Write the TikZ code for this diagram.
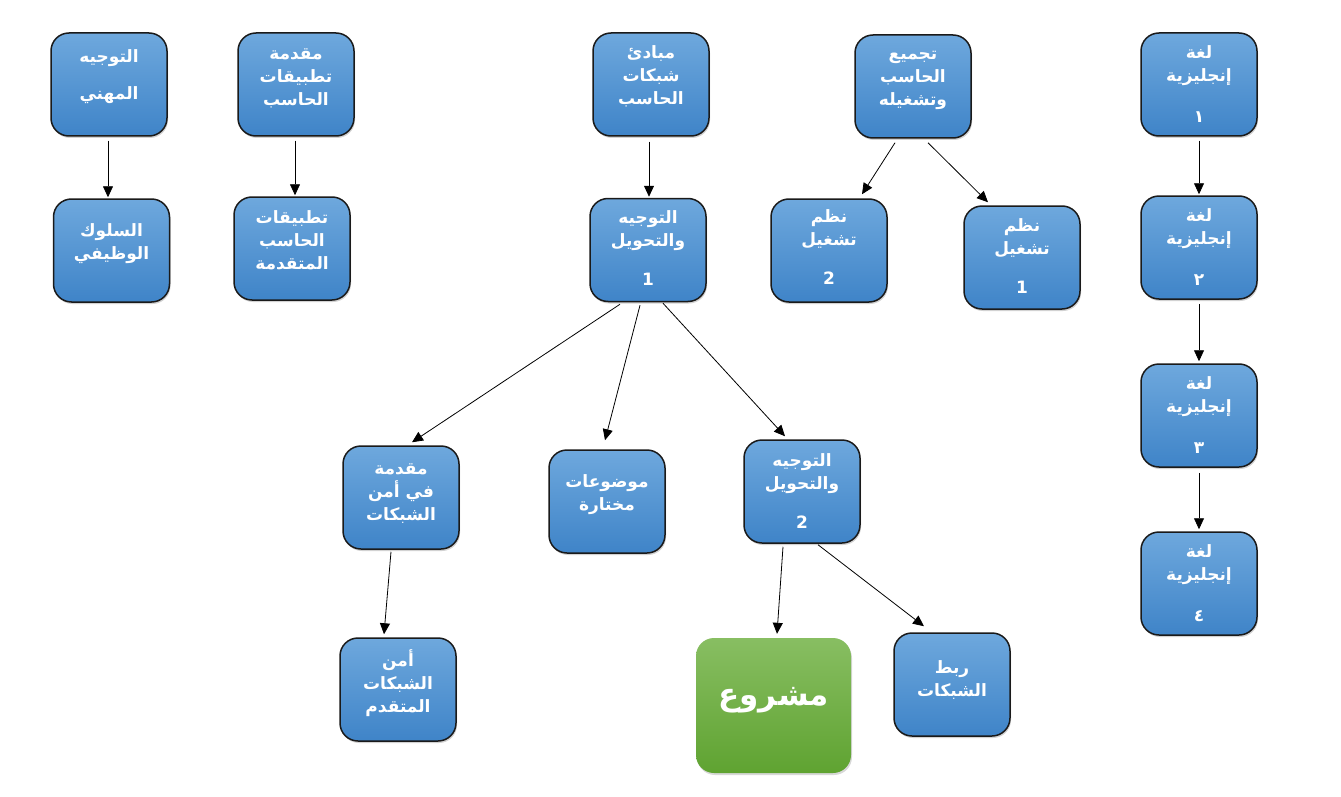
\documentclass[tikz,border=0pt]{standalone}
\usepackage{fontspec}
\usetikzlibrary{arrows.meta,calc,shadows}
\TeXXeTstate=1
\newfontfamily\arabicfont[Script=Arabic]{DejaVu Sans}
\newcommand\artext[1]{\beginR #1\endR}
\definecolor{boxtop}{HTML}{6EA8DD}
\definecolor{boxbot}{HTML}{3F84C8}
\definecolor{boxline}{HTML}{1A1A1A}
\definecolor{greentop}{HTML}{88BE62}
\definecolor{greenbot}{HTML}{5FA331}
\tikzset{
  box/.style={rounded corners=18pt, draw=boxline, line width=1.5pt,
    top color=boxtop, bottom color=boxbot, minimum width=116pt, minimum height=103pt,
    inner sep=0pt, drop shadow={shadow xshift=1pt, shadow yshift=-2pt, opacity=0.35}},
  greenbox/.style={rounded corners=18pt, top color=greentop, bottom color=greenbot,
    minimum width=155pt, minimum height=135pt, inner sep=0pt,
    drop shadow={shadow xshift=1pt, shadow yshift=-2pt, opacity=0.3}},
  txt/.style={text=white, align=center, inner sep=0pt,
    font=\arabicfont\bfseries\fontsize{17}{23}\selectfont},
  bigtxt/.style={text=white, align=center, inner sep=0pt,
    font=\arabicfont\bfseries\fontsize{31}{36}\selectfont},
  arr/.style={draw=black, line width=0.8pt, -{Triangle[length=11pt,width=10pt]}}
}
\newcommand\course[5]{%
  \node[box] (#1) at (#2,#3) {};
  \node[txt] (#1-t) at ($(#1.center)+(0,#4)$) {#5};
}
\begin{document}
\begin{tikzpicture}[x=1pt,y=-1pt]
\fill[white] (0,0) rectangle (1341,797);
\useasboundingbox (0,0) rectangle (1341,797);

\course{mihani}{109}{84.5}{-8}{\artext{التوجيه}\\[14pt]\artext{المهني}}
\course{muqtat}{296}{84.5}{-6.5}{\artext{مقدمة}\\\artext{تطبيقات}\\\artext{الحاسب}}
\course{suluk}{111.5}{250.5}{-6.5}{\artext{السلوك}\\\artext{الوظيفي}}
\course{tatmut}{292}{248.5}{-8.5}{\artext{تطبيقات}\\\artext{الحاسب}\\\artext{المتقدمة}}
\course{mabadi}{651}{84.5}{-8}{\artext{مبادئ}\\\artext{شبكات}\\\artext{الحاسب}}
\course{tawone}{648}{250}{-2}{\artext{التوجيه}\\\artext{والتحويل}\\[16pt]1}
\course{tajmi}{913}{86.5}{-6.5}{\artext{تجميع}\\\artext{الحاسب}\\\artext{وتشغيله}}
\course{nuztwo}{829}{250.5}{-3}{\artext{نظم}\\\artext{تشغيل}\\[16pt]2}
\course{nuzone}{1022}{257.5}{-1.5}{\artext{نظم}\\\artext{تشغيل}\\[16pt]1}
\course{engone}{1199}{84.5}{0}{\artext{لغة}\\\artext{إنجليزية}\\[18pt]\artext{١}}
\course{engtwo}{1199}{247.5}{0}{\artext{لغة}\\\artext{إنجليزية}\\[18pt]\artext{٢}}
\course{engthree}{1199}{415.5}{0}{\artext{لغة}\\\artext{إنجليزية}\\[18pt]\artext{٣}}
\course{engfour}{1199}{583.5}{0}{\artext{لغة}\\\artext{إنجليزية}\\[18pt]\artext{٤}}
\course{muqamn}{401}{497.5}{-3.5}{\artext{مقدمة}\\\artext{في أمن}\\\artext{الشبكات}}
\course{mawdu}{607}{501.5}{-6.5}{\artext{موضوعات}\\\artext{مختارة}}
\course{tawtwo}{802}{491.5}{0}{\artext{التوجيه}\\\artext{والتحويل}\\[16pt]2}
\course{amnmut}{398}{689.5}{-6.5}{\artext{أمن}\\\artext{الشبكات}\\\artext{المتقدم}}
\course{rabt}{952}{684.5}{-4.5}{\artext{ربط}\\\artext{الشبكات}}
\node[greenbox] (mashru) at (773.5,705.5) {};
\node[bigtxt] (mashru-t) at ($(mashru.center)+(0,-5)$) {\artext{مشروع}};

\draw[arr] ($(mihani.south)+(-1,4)$) -- ($(suluk.north)+(-3.5,-1)$);
\draw[arr] ($(muqtat.south)+(-1,4)$) -- ($(tatmut.north)+(3,-1)$);
\draw[arr] ($(mabadi.south)+(-2,5)$) -- ($(tawone.north)+(1,-1)$);
\draw[arr] ($(tajmi.south)+(-18,4)$) -- ($(nuztwo.north)+(33,-4)$);
\draw[arr] ($(tajmi.south)+(15,4)$) -- ($(nuzone.north)+(-34,-3)$);
\draw[arr] ($(engone.south)+(0,4)$) -- ($(engtwo.north)+(0,-1)$);
\draw[arr] ($(engtwo.south)+(0,4)$) -- ($(engthree.north)+(0,-2)$);
\draw[arr] ($(engthree.south)+(0,5)$) -- ($(engfour.north)+(0,-2)$);
\draw[arr] ($(tawone.south)+(-28,2)$) -- ($(muqamn.north)+(11,-3)$);
\draw[arr] ($(tawone.south)+(-8,3)$) -- ($(mawdu.north)+(-2,-9)$);
\draw[arr] ($(tawone.south)+(15,1)$) -- ($(tawtwo.north)+(-17,-3)$);
\draw[arr] ($(muqamn.south)+(-10,2)$) -- ($(amnmut.north)+(-14,-3)$);
\draw[arr] ($(tawtwo.south)+(-19,3)$) -- ($(mashru.north)+(3.5,-4)$);
\draw[arr] ($(tawtwo.south)+(16,1)$) -- ($(rabt.north)+(-28,-6)$);
\end{tikzpicture}
\end{document}
